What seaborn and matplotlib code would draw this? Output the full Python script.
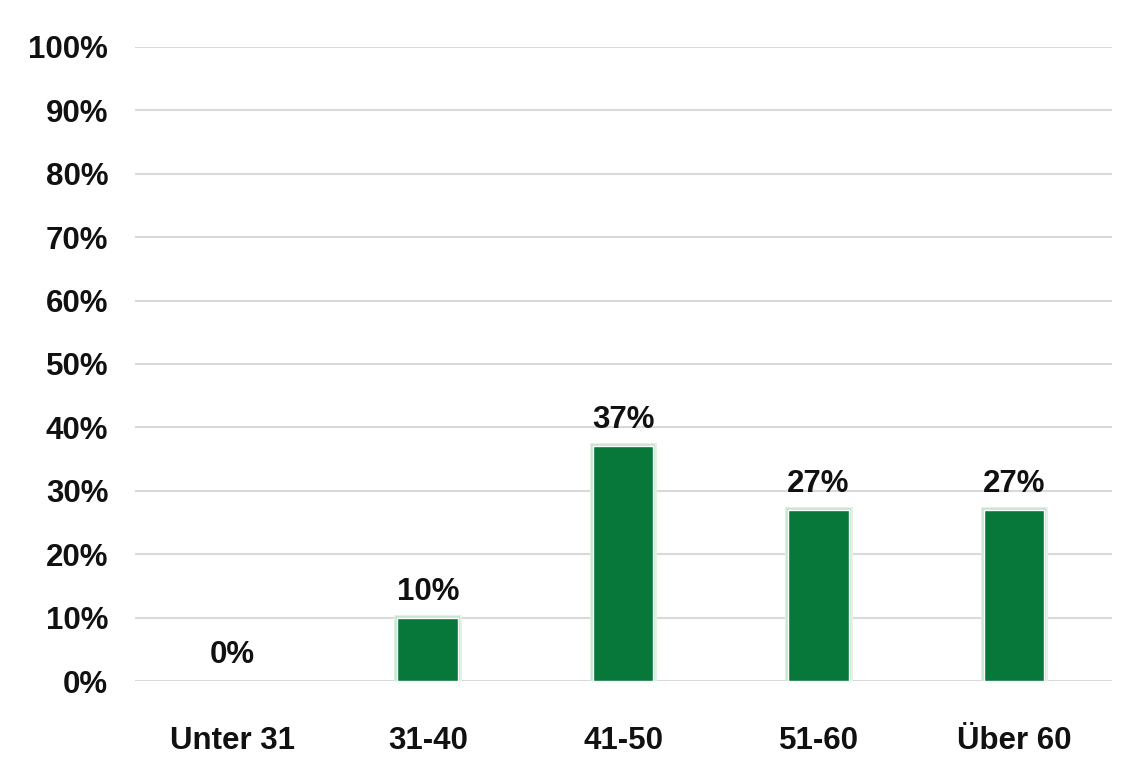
import matplotlib
matplotlib.use("Agg")
import matplotlib.pyplot as plt
import matplotlib.patheffects as pe
import seaborn as sns
import pandas as pd

categories = ["Unter 31", "31-40", "41-50", "51-60", "Über 60"]
shares = [0, 10, 37, 27, 27]

sns.set_style("white")
plt.rcParams['font.family'] = ['Liberation Sans', 'DejaVu Sans']

fig = plt.figure(figsize=(11.32, 7.67), dpi=100)
ax = fig.add_axes([0.119, 0.112, 0.863, 0.827])

data = pd.DataFrame({'Altersgruppe': categories, 'Anteil': shares})
sns.barplot(data=data, x='Altersgruppe', y='Anteil', color='#08773a',
            width=0.31, saturation=1, edgecolor='white', linewidth=1, ax=ax, zorder=3)

# soft green glow around the bars (skip empty bars)
for bar in ax.patches:
    if bar.get_height() > 0:
        bar.set_path_effects([pe.Stroke(linewidth=5, foreground='#e2f3e6'),
                              pe.Stroke(linewidth=3, foreground='#c6e7cf'),
                              pe.Normal()])
    else:
        bar.set_visible(False)

for i, v in enumerate(shares):
    ax.annotate(f"{v}%", (i, v), xytext=(0, 8), textcoords='offset points',
                ha='center', va='bottom', fontsize=22.5, fontweight='bold', color='#111111')

ax.set_ylim(0, 100)
ax.set_xlim(-0.5, 4.5)
ax.set_yticks(range(0, 101, 10))
ax.set_yticklabels([f"{t}%" for t in range(0, 101, 10)])
ax.yaxis.grid(True, color='#d9d9d9', linewidth=1.5, zorder=0)
ax.set_axisbelow(True)
for s in ax.spines.values():
    s.set_visible(False)
ax.tick_params(axis='y', length=0, pad=19, labelsize=22.5)
ax.tick_params(axis='x', length=0, pad=32, labelsize=22.5)
for lbl in ax.get_xticklabels() + ax.get_yticklabels():
    lbl.set_fontweight('bold')
    lbl.set_color('#111111')
ax.set_xlabel('')
ax.set_ylabel('')

fig.savefig('out.png', dpi=100, facecolor='white')
